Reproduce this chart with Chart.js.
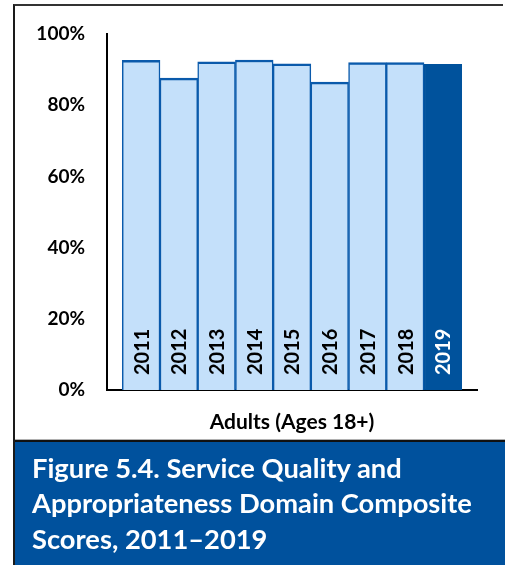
<!DOCTYPE html>
<html>
<head>
<meta charset="utf-8">
<script src="https://cdn.jsdelivr.net/npm/chart.js@4/dist/chart.umd.min.js"></script>
<style>
html,body{margin:0;padding:0;background:#fff;}
#wrap{position:relative;width:505px;height:565px;overflow:hidden;background:#fff;}
#frame{position:absolute;left:13px;top:4px;width:490px;height:561px;border-left:2px solid #1a1a1a;border-top:2px solid #333;box-sizing:border-box;}
#chart{position:absolute;left:0;top:0;}
#banner{position:absolute;left:15px;top:440px;width:490px;height:125px;background:#00519d;border-top:2px solid #111;box-shadow:0 -1px 0 #b0b0b0;box-sizing:border-box;}
#banner p{margin:0;position:absolute;left:17px;top:7.5px;color:#fff;font-family:Lato,sans-serif;font-weight:bold;font-size:27.3px;line-height:35.5px;white-space:nowrap;}
</style>
</head>
<body>
<div id="wrap">
  <canvas id="chart" width="505" height="440"></canvas>
  <div id="frame"></div>
  <div id="banner"><p>Figure 5.4. Service Quality and<br>Appropriateness Domain Composite<br>Scores, 2011–2019</p></div>
</div>
<script>
// ---- data ----
const years = ["2011","2012","2013","2014","2015","2016","2017","2018","2019"];
const values = [92.6, 87.6, 92.2, 92.7, 91.6, 86.5, 92.0, 92.0, 91.5];
const yTicks = [0, 20, 40, 60, 80, 100];
const xTitle = "Adults (Ages 18+)";
const highlightYear = "2019";

// ---- styles ----
const light = "#c4e0fa";
const lightBorder = "#0a5aab";
const dark = "#00529c";
const FONT = "Lato";

const yearLabels = {
  id: "yearLabels",
  afterDatasetsDraw(chart) {
    const meta = chart.getDatasetMeta(0);
    const ctx = chart.ctx;
    const base = chart.scales.y.getPixelForValue(0);
    meta.data.forEach((bar, i) => {
      ctx.save();
      ctx.translate(bar.x + 1, base - 15);
      ctx.rotate(-Math.PI / 2);
      ctx.font = "bold 20px " + FONT;
      ctx.fillStyle = years[i] === highlightYear ? "#ffffff" : "#000000";
      ctx.textAlign = "left";
      ctx.textBaseline = "middle";
      ctx.fillText(years[i], 0, 0);
      ctx.restore();
    });
  }
};

function draw() {
  new Chart(document.getElementById("chart"), {
    type: "bar",
    data: {
      datasets: [{
        data: years.map((y, i) => ({ x: i, y: values[i] })),
        backgroundColor: years.map(y => y === highlightYear ? dark : light),
        borderColor: years.map(y => y === highlightYear ? dark : lightBorder),
        borderWidth: { top: 2.5, left: 1.5, right: 1.5, bottom: 0 },
        borderSkipped: "bottom",
        barPercentage: 1,
        categoryPercentage: 1
      }]
    },
    options: {
      responsive: false,
      animation: false,
      devicePixelRatio: 1,
      layout: { padding: { left: 0, top: 34, right: 28, bottom: 0 } },
      plugins: { legend: { display: false }, tooltip: { enabled: false } },
      scales: {
        x: {
          type: "linear",
          offset: false,
          min: -0.905,
          max: years.length - 1 + 0.905,
          ticks: { display: false },
          grid: { display: false, drawTicks: false, offset: false },
          border: { display: true, color: "#000", width: 2 },
          title: {
            display: true, text: xTitle, color: "#000",
            font: { family: FONT, weight: "bold", size: 21 },
            padding: { top: 0, bottom: 5 }
          },
          afterFit(s) { s.height = 50; }
        },
        y: {
          min: 0, max: 100,
          afterBuildTicks(s) { s.ticks = yTicks.map(v => ({ value: v })); },
          ticks: {
            callback: v => v + "%",
            color: "#000",
            font: { family: FONT, weight: "bold", size: 19 },
            padding: 22
          },
          grid: { display: false, drawTicks: false },
          border: { display: true, color: "#000", width: 2 },
          afterFit(s) { s.width = 107; }
        }
      }
    },
    plugins: [yearLabels]
  });
}
document.fonts.load("bold 20px " + FONT).then(draw, draw);
</script>
</body>
</html>
